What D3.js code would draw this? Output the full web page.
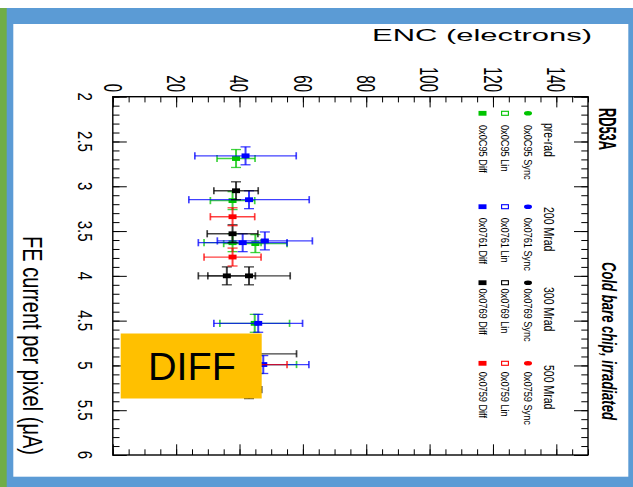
<!DOCTYPE html>
<html>
<head>
<meta charset="utf-8">
<script src="https://cdn.jsdelivr.net/npm/d3@7"></script>
<style>
  body { margin: 0; background: #fff; }
  svg { display: block; }
  text { font-family: "Liberation Sans", Arial, sans-serif; fill: #000; }
</style>
</head>
<body>
<svg id="chart" width="633" height="487"></svg>
<script>
// RD53A Diff front end: ENC vs FE current, the slide shows the ROOT plot turned 90deg clockwise

// axis ticks
const encMajor = [0, 20, 40, 60, 80, 100, 120, 140];
const currentMajor = [2, 2.5, 3, 3.5, 4, 4.5, 5, 5.5, 6];
const currentLabels = ["2", "2.5", "3", "3.5", "4", "4.5", "5", "5.5", "6"];

// legend
const doses = ["pre-rad", "200 Mrad", "300 Mrad", "500 Mrad"];
const chips = ["0x0C95", "0x0761", "0x0769", "0x0759"];
const flavours = ["Sync", "Lin", "Diff"];

// pre-rad, 0x0C95 Diff
const preRadCurrent = [2.69, 3.16, 3.63, 3.64, 4.53, 4.99];
const preRadEnc = [38.9, 37.8, 37.8, 45.0, 44.8, 46.0];
const preRadEncErr = [6, 7, 9, 10, 11, 12];
const preRadCurErr = [0.1, 0.1, 0.1, 0.1, 0.1, 0.1];

// 200 Mrad, 0x0761 Diff
const rad200Current = [2.66, 3.15, 3.63, 3.61, 4.53, 4.99];
const rad200Enc = [41.9, 43.0, 41.0, 48.0, 45.9, 47.5];
const rad200EncErr = [16, 19, 14, 15, 14, 14.4];
const rad200CurErr = [0.1, 0.1, 0.1, 0.1, 0.1, 0.1];

// 300 Mrad, 0x0769 Diff
const rad300Current = [3.05, 3.53, 4.0, 4.0, 4.87, 5.27];
const rad300Enc = [38.9, 37.8, 36.0, 43.0, 43.0, 43.0];
const rad300EncErr = [7, 8, 9, 13, 15, 4];
const rad300CurErr = [0.1, 0.1, 0.1, 0.1, 0.1, 0.1];

// 500 Mrad, 0x0759 Diff
const rad500Current = [3.34, 3.79, 4.99];
const rad500Enc = [37.8, 37.8, 45.0];
const rad500EncErr = [7, 9, 10];
const rad500CurErr = [0.1, 0.1, 0.1];

const doseColors = ["#00c400", "#0000ff", "#000000", "#ff0000"];

const series = [
  { current: preRadCurrent, enc: preRadEnc, encErr: preRadEncErr, curErr: preRadCurErr, color: doseColors[0] },
  { current: rad200Current, enc: rad200Enc, encErr: rad200EncErr, curErr: rad200CurErr, color: doseColors[1] },
  { current: rad300Current, enc: rad300Enc, encErr: rad300EncErr, curErr: rad300CurErr, color: doseColors[2] },
  { current: rad500Current, enc: rad500Enc, encErr: rad500EncErr, curErr: rad500CurErr, color: doseColors[3] }
];

const svg = d3.select("#chart");

// slide frame
svg.append("rect").attr("x", 0).attr("y", 8).attr("width", 633).attr("height", 479).attr("fill", "#5b9bd5");
svg.append("rect").attr("x", 0).attr("y", 8).attr("width", 6.7).attr("height", 479).attr("fill", "#70ad47");
svg.append("rect").attr("x", 13.3).attr("y", 24).attr("width", 615).attr("height", 452.7).attr("fill", "#fff");

// ENC runs left->right on screen, current runs top->bottom
const x = d3.scaleLinear().domain([0, 150]).range([112.8, 588]);
const y = d3.scaleLinear().domain([2, 6]).range([96.7, 455]);

const encMinor = d3.range(0, 150.01, 5);
const curMinor = d3.range(0, 41).map(i => 2 + i * 0.1);

const noDomain = g => g.select(".domain").remove();
const axes = svg.append("g");

axes.append("g").attr("transform", `translate(0,${y(2)})`)
  .call(d3.axisTop(x).tickValues(encMinor).tickSize(-5.7).tickFormat("")).call(noDomain);
axes.append("g").attr("transform", `translate(0,${y(2)})`)
  .call(d3.axisTop(x).tickValues(encMajor).tickSize(-10.7).tickFormat("")).call(noDomain);
axes.append("g").attr("transform", `translate(0,${y(6)})`)
  .call(d3.axisBottom(x).tickValues(encMinor).tickSize(-5.7).tickFormat("")).call(noDomain);
axes.append("g").attr("transform", `translate(0,${y(6)})`)
  .call(d3.axisBottom(x).tickValues(encMajor).tickSize(-10.7).tickFormat("")).call(noDomain);
axes.append("g").attr("transform", `translate(${x(0)},0)`)
  .call(d3.axisLeft(y).tickValues(curMinor).tickSize(-6.7).tickFormat("")).call(noDomain);
axes.append("g").attr("transform", `translate(${x(0)},0)`)
  .call(d3.axisLeft(y).tickValues(currentMajor).tickSize(-14).tickFormat("")).call(noDomain);
axes.append("g").attr("transform", `translate(${x(150)},0)`)
  .call(d3.axisRight(y).tickValues(curMinor).tickSize(-6.7).tickFormat("")).call(noDomain);
axes.append("g").attr("transform", `translate(${x(150)},0)`)
  .call(d3.axisRight(y).tickValues(currentMajor).tickSize(-14).tickFormat("")).call(noDomain);
axes.selectAll(".tick line").attr("stroke-width", 1);

axes.append("rect")
  .attr("x", x(0)).attr("y", y(2))
  .attr("width", x(150) - x(0)).attr("height", y(6) - y(2))
  .attr("fill", "none").attr("stroke", "#000").attr("stroke-width", 1.4);

// text turned clockwise, reading top to bottom, glyphs stretched sideways like the slide
function turned(g, cx, cy, str, o) {
  const t = g.append("text")
    .attr("transform", `translate(${cx},${cy}) scale(${o.sx || 1},1) rotate(90)`)
    .attr("text-anchor", o.anchor || "start")
    .attr("font-size", o.size)
    .text(str);
  if (o.central !== false) t.attr("dominant-baseline", "central");
  if (o.weight) t.attr("font-weight", o.weight);
  if (o.style) t.attr("font-style", o.style);
  if (o.len) t.attr("textLength", o.len).attr("lengthAdjust", "spacingAndGlyphs");
  return t;
}

const labels = svg.append("g");
encMajor.forEach(v => turned(labels, x(v), 92, String(v), { size: 15, sx: 1.7, anchor: "end" }));
currentMajor.forEach((v, i) => turned(labels, 85, y(v), currentLabels[i], { size: 15, sx: 1.35, anchor: "middle" }));

turned(labels, 22.5, 455, "FE current per pixel (\u03bcA)", { size: 19, sx: 1.45, anchor: "end", central: false, len: 219 });

labels.append("text")
  .attr("x", 372).attr("y", 41)
  .attr("font-size", 16)
  .attr("textLength", 220).attr("lengthAdjust", "spacingAndGlyphs")
  .text("ENC (electrons)");

turned(labels, 606.7, 108, "RD53A", { size: 13, sx: 1.8, weight: "bold", len: 42 });
turned(labels, 608, 262, "Cold bare chip, irradiated", { size: 13, sx: 1.5, weight: "bold", style: "italic", len: 158 });

// legend: one column per dose, one row per front end
const legend = svg.append("g");
const headerX = 549;
const headerY = [123, 207, 287, 365];
const markerY = [113.3, 206.7, 282.7, 363.3];
const textY = [125, 217.7, 288.5, 371.7];
const rowX = [528, 505, 482.5];

doses.forEach((dose, i) => {
  turned(legend, headerX, headerY[i], dose, { size: 10.5, sx: 1.4 });
  flavours.forEach((fl, j) => {
    const cx = rowX[j], cy = markerY[i];
    if (fl === "Sync") {
      legend.append("ellipse").attr("cx", cx).attr("cy", cy).attr("rx", 4).attr("ry", 2.3).attr("fill", doseColors[i]);
    } else if (fl === "Lin") {
      legend.append("rect").attr("x", cx - 3.4).attr("y", cy - 2).attr("width", 6.8).attr("height", 4)
        .attr("fill", "#fff").attr("stroke", doseColors[i]).attr("stroke-width", 1.1);
    } else {
      legend.append("rect").attr("x", cx - 4).attr("y", cy - 2.4).attr("width", 8).attr("height", 4.8).attr("fill", doseColors[i]);
    }
    turned(legend, cx, textY[i], `${chips[i]} ${fl}`, { size: 9.2, sx: 1.25 });
  });
});

// data: horizontal bars = ENC error, vertical bars = current error
const plot = svg.append("g");
series.forEach(s => {
  const pts = s.current.map((c, i) => ({ c, e: s.enc[i], ee: s.encErr[i], ce: s.curErr[i] }));
  const g = plot.append("g").attr("stroke", s.color).attr("stroke-opacity", 0.75);
  const p = g.selectAll("g").data(pts).join("g");
  p.append("line")
    .attr("x1", d => x(d.e - d.ee)).attr("x2", d => x(d.e + d.ee))
    .attr("y1", d => y(d.c)).attr("y2", d => y(d.c)).attr("stroke-width", 1.3);
  p.append("line")
    .attr("x1", d => x(d.e - d.ee)).attr("x2", d => x(d.e - d.ee))
    .attr("y1", d => y(d.c) - 3.6).attr("y2", d => y(d.c) + 3.6).attr("stroke-width", 1.7);
  p.append("line")
    .attr("x1", d => x(d.e + d.ee)).attr("x2", d => x(d.e + d.ee))
    .attr("y1", d => y(d.c) - 3.6).attr("y2", d => y(d.c) + 3.6).attr("stroke-width", 1.7);
  p.append("line")
    .attr("x1", d => x(d.e)).attr("x2", d => x(d.e))
    .attr("y1", d => y(d.c - d.ce)).attr("y2", d => y(d.c + d.ce)).attr("stroke-width", 2);
  p.append("line")
    .attr("x1", d => x(d.e) - 5).attr("x2", d => x(d.e) + 5)
    .attr("y1", d => y(d.c - d.ce)).attr("y2", d => y(d.c - d.ce)).attr("stroke-width", 1.3);
  p.append("line")
    .attr("x1", d => x(d.e) - 5).attr("x2", d => x(d.e) + 5)
    .attr("y1", d => y(d.c + d.ce)).attr("y2", d => y(d.c + d.ce)).attr("stroke-width", 1.3);
  plot.append("g").selectAll("rect").data(pts).join("rect")
    .attr("x", d => x(d.e) - 4).attr("y", d => y(d.c) - 2.4)
    .attr("width", 8).attr("height", 4.8)
    .attr("fill", s.color);
});

// orange DIFF tag pasted on the slide
svg.append("rect").attr("x", 120.7).attr("y", 333.5).attr("width", 141).attr("height", 65).attr("fill", "#ffc000");
svg.append("text")
  .attr("x", 148).attr("y", 380)
  .attr("font-family", "DejaVu Sans")
  .attr("font-size", 38)
  .attr("textLength", 88).attr("lengthAdjust", "spacingAndGlyphs")
  .text("DIFF");
</script>
</body>
</html>
